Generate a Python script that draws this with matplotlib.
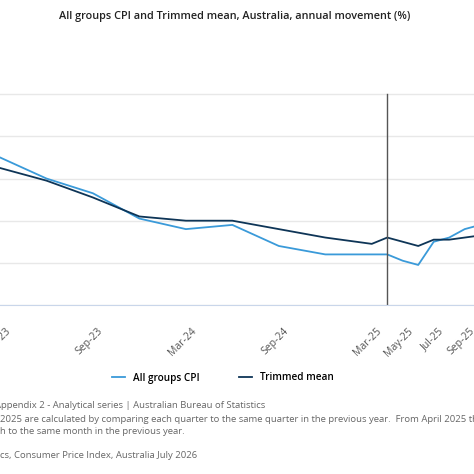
import matplotlib
matplotlib.use("Agg")
import matplotlib.pyplot as plt

plt.rcParams['font.family'] = ['Open Sans', 'DejaVu Sans']

# meses desde Mar-23 (0 = Mar-23)
months_q = [0, 3, 6, 9, 12, 15, 18, 21, 24]
months_m = [25, 26, 27, 28, 29, 30, 31]
months = months_q + months_m

cpi = [7.0, 6.0, 5.3, 4.1, 3.6, 3.8, 2.8, 2.4, 2.4, 2.4, 2.1, 1.9, 3.0, 3.2, 3.6, 3.8]
trimmed = [6.5, 5.9, 5.1, 4.2, 4.0, 4.0, 3.6, 3.2, 2.9, 3.2, 3.0, 2.8, 3.1, 3.1, 3.2, 3.3]

tick_pos = [0, 6, 12, 18, 24, 26, 28, 30, 32]
tick_lab = ["Mar-23", "Sep-23", "Mar-24", "Sep-24", "Mar-25", "May-25", "Jul-25", "Sep-25", "Nov-25"]

fig = plt.figure(figsize=(4.74, 4.74), dpi=100)
ax = fig.add_axes([0, 1 - 305 / 474, 1, (305 - 90) / 474])

ax.plot(months, cpi, color="#3A9AD9", lw=1.3, label="All groups CPI")
ax.plot(months, trimmed, color="#0E3557", lw=1.3, label="Trimmed mean")
ax.axvline(25, ymax=10 / 10.2, color="#555555", lw=1)

ax.set_ylim(0, 10.2)
ax.set_yticks([0, 2, 4, 6, 8, 10])
ax.set_yticklabels([])
ax.grid(axis="y", color="#E8E8E8", lw=1)
ax.tick_params(length=0)
for s in ["top", "right", "left"]:
    ax.spines[s].set_visible(False)
ax.spines["bottom"].set_color("#C9D6EA")

# etiquetas del eje x a mano para que se corten en el borde como en el original
ax.set_xticks([])
for p, lab in zip(tick_pos, tick_lab):
    ax.text(p + 0.3, -1.0, lab, transform=ax.transData, rotation=45, ha="right",
            va="top", rotation_mode="anchor", color="#555555", fontsize=7.5, clip_on=False)
ax.set_xlim(0, 30.6)

fig.text(0.496, 1 - 16 / 474, "All groups CPI and Trimmed mean, Australia, annual movement (%)",
         ha="center", va="center", fontsize=7.8, fontweight="semibold", color="#222222")

fig.legend(loc="center", bbox_to_anchor=(0.47, 1 - 378 / 474), ncol=2, frameon=False,
           handlelength=1.3, columnspacing=4, prop={'weight': 'semibold', 'size': 7.2})

foot = "#666666"
fig.text(-0.01, 1 - 406 / 474, "Appendix 2 - Analytical series | Australian Bureau of Statistics",
         fontsize=6.8, color=foot, va="center")
fig.text(0, 1 - 419 / 474, "2025 are calculated by comparing each quarter to the same quarter in the previous year.  From April 2025 these",
         fontsize=6.8, color=foot, va="center")
fig.text(0, 1 - 431 / 474, "h to the same month in the previous year.",
         fontsize=6.8, color=foot, va="center")
fig.text(0, 1 - 455 / 474, "cs, Consumer Price Index, Australia July 2026",
         fontsize=6.8, color=foot, va="center")

fig.savefig("out.png", dpi=100)
